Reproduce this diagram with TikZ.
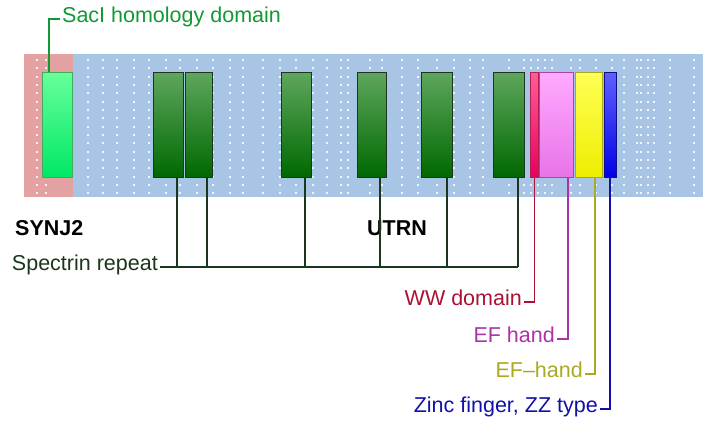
\documentclass[tikz,border=0pt]{standalone}
\usepackage{fontspec}
\setmainfont{Liberation Sans}
\usepackage{xcolor}

\definecolor{bgblue}{HTML}{A9C5E5}
\definecolor{bgpink}{HTML}{E3A1A2}
\definecolor{sacgreen}{HTML}{119933}
\definecolor{srgreen}{HTML}{1C361C}
\definecolor{wwred}{HTML}{AA1133}
\definecolor{efviolet}{HTML}{AA33AA}
\definecolor{efolive}{HTML}{AAAA22}
\definecolor{zzblue}{HTML}{1111AA}
\definecolor{sactop}{HTML}{66FF99}
\definecolor{sacbot}{HTML}{00E866}
\definecolor{srtop}{HTML}{5EA65E}
\definecolor{srbot}{HTML}{006800}
\definecolor{wwdraw}{HTML}{B02050}
\definecolor{wwtop}{HTML}{FF5C99}
\definecolor{wwbot}{HTML}{E8005C}
\definecolor{efhdraw}{HTML}{AA44AA}
\definecolor{efhtop}{HTML}{FFAAFF}
\definecolor{efhbot}{HTML}{E873E8}
\definecolor{efytop}{HTML}{FFFF55}
\definecolor{efybot}{HTML}{EEEE00}
\definecolor{zzdraw}{HTML}{10108A}
\definecolor{zztop}{HTML}{6060FF}
\definecolor{zzbot}{HTML}{0000E8}

\tikzset{
  dom/.style={draw, line width=1.3pt, inner sep=0pt, minimum height=105pt},
  sacbox/.style={dom, draw=sacgreen!80, top color=sactop, bottom color=sacbot},
  srbox/.style={dom, draw=srgreen, top color=srtop, bottom color=srbot},
  wwbox/.style={dom, draw=wwdraw, top color=wwtop, bottom color=wwbot},
  efhbox/.style={dom, draw=efhdraw, top color=efhtop, bottom color=efhbot},
  efybox/.style={dom, draw=efolive, top color=efytop, bottom color=efybot},
  zzbox/.style={dom, draw=zzdraw, top color=zztop, bottom color=zzbot},
  lbl/.style={font=\fontsize{21.5}{25}\selectfont, text height=0.72em, text depth=0pt, inner sep=2pt},
  conn/.style={line width=1.5pt},
}

\begin{document}
\begin{tikzpicture}[x=1pt, y=-1pt]
\useasboundingbox (0,0) rectangle (703,422);
% protein backgrounds
\fill[bgpink] (24,54) rectangle (73,197);
\fill[bgblue] (73,54) rectangle (703,197);
\foreach \x in {37,46,88,103,117,134,149,166,180,197,213,230,243,263,280,296,313,327,341,348,370,382,402,418,437,454,470,483,509,524,531,538,545,552,571,580,596,612,624,637,641,648,654,670,694}
  \foreach \y in {0,...,16}
    \fill[white, opacity=0.85] (\x-0.9, 60+\y*8.33-0.9) rectangle ++(1.8,1.8);

% domains
\node[sacbox, minimum width=30pt] (sac) at (57.5,125) {};
\foreach \x/\w [count=\i] in {168.5/30, 199/27, 296.5/30, 372/29, 437/31, 509/31}
  \node[srbox, minimum width=\w*1pt] (sr\i) at (\x,125) {};
\node[wwbox, minimum width=8pt] (ww) at (534.5,125) {};
\node[efhbox, minimum width=34pt] (efh) at (556.5,125) {};
\node[efybox, minimum width=27pt] (efy) at (589,125) {};
\node[zzbox, minimum width=12pt] (zz) at (610.5,125) {};

% protein names
\node[lbl, font=\fontsize{21.5}{25}\selectfont\bfseries, anchor=west] (synj) at (13,232) {SYNJ2};
\node[lbl, font=\fontsize{21.5}{25}\selectfont\bfseries, anchor=west] (utrn) at (365,232) {UTRN};

% labels
\node[lbl, anchor=west, text=sacgreen] (saclbl) at (60,19) {SacI homology domain};
\node[lbl, anchor=east, text=srgreen] (srlbl) at (160,267) {Spectrin repeat};
\node[lbl, anchor=east, text=wwred] (wwlbl) at (524,302) {WW domain};
\node[lbl, anchor=east, text=efviolet] (efhlbl) at (557,339) {EF hand};
\node[lbl, anchor=east, text=efolive] (efylbl) at (585,374) {EF--hand};
\node[lbl, anchor=east, text=zzblue] (zzlbl) at (600,409) {Zinc finger, ZZ type};

% connectors
\draw[conn, sacgreen] ([xshift=-8.5pt]sac.north) |- (saclbl.west);
\draw[conn, srgreen] (srlbl.east) -- ([xshift=9pt]sr6.south |- srlbl.east);
\foreach \d [count=\i] in {8.5,8,8.5,8,10,9}
  \draw[conn, srgreen] ([xshift=\d*1pt]sr\i.south) -- ([xshift=\d*1pt]sr\i.south |- srlbl.east);
\draw[conn, wwred] (ww.south) |- (wwlbl.east);
\draw[conn, efviolet] ([xshift=11.5pt]efh.south) |- (efhlbl.east);
\draw[conn, efolive] ([xshift=6pt]efy.south) |- (efylbl.east);
\draw[conn, zzblue] ([xshift=-0.5pt]zz.south) |- (zzlbl.east);
\end{tikzpicture}
\end{document}
